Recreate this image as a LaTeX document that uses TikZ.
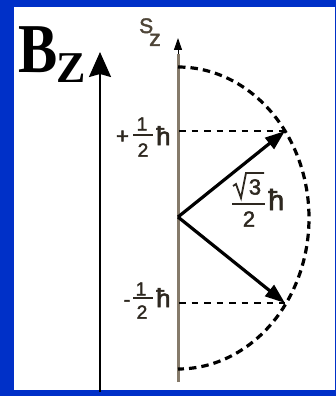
\documentclass[tikz,border=0pt]{standalone}
\usepackage{fontspec}
\setmainfont{Liberation Sans}
\newfontfamily\serifb{Liberation Serif}
\newfontfamily\lblfont[FakeBold=2]{Liberation Sans}
\usetikzlibrary{arrows.meta}
\definecolor{bgblue}{HTML}{0030C8}
\definecolor{axisbrown}{HTML}{857A6A}
\definecolor{ink}{HTML}{2E2820}
\definecolor{labbrown}{HTML}{4E4538}
\begin{document}
\begin{tikzpicture}[x=1pt,y=-1pt,
  digit/.style={inner sep=0pt, text=ink, font=\lblfont\fontsize{19pt}{19pt}\selectfont},
  bigdigit/.style={inner sep=0pt, text=ink, font=\lblfont\fontsize{22pt}{22pt}\selectfont},
  hb/.style={inner sep=0pt, anchor=base west, text=ink, font=\lblfont\fontsize{26pt}{26pt}\selectfont},
  bighb/.style={inner sep=0pt, anchor=base west, text=ink, font=\lblfont\fontsize{29pt}{29pt}\selectfont},
  fracbar/.style={ink, line width=1.8pt},
  vec/.style={line width=3.2pt, -{Triangle[length=20pt,width=14pt]}},
  guide/.style={line width=1.6pt, dash pattern=on 6.5pt off 6pt},
  cone/.style={line width=3.2pt, dash pattern=on 7.5pt off 5pt}]
\useasboundingbox (0,0) rectangle (336,396);
\fill[bgblue] (0,0) rectangle (336,396);
\fill[white] (14,7) rectangle (335,390);

% B_z label and field arrow
\node[anchor=base west, inner sep=0pt] (B) at (18,72)
  {\scalebox{0.84}[1]{\serifb\bfseries\fontsize{70pt}{70pt}\selectfont B}};
\node[anchor=base west, inner sep=0pt] (Z) at (56,82)
  {\serifb\bfseries\fontsize{44pt}{44pt}\selectfont Z};
\coordinate (Bbot) at (100,392);
\coordinate (Btop) at (100,52);
\draw[line width=2.2pt, -{Stealth[length=25pt,width=22pt,inset=3pt]}] (Bbot) -- (Btop);

% S_z axis
\coordinate (Sbot) at (178,382);
\coordinate (Sarr) at (178,54);
\coordinate (Stop) at (178,38);
\draw[axisbrown, line width=3pt] (Sbot) -- (Sarr);
\draw[black, line width=1pt, -{Triangle[length=12pt,width=8pt]}] (Sarr) -- (Stop);
\node[anchor=base west, inner sep=0pt, text=labbrown, font=\lblfont\fontsize{21pt}{21pt}\selectfont] (Sz) at (139,33)
  {S\kern-4pt\raisebox{-13pt}{\fontsize{23pt}{23pt}\selectfont z}};

% dashed half circle
\draw[cone] plot[domain=-90:90, samples=120] ({178+131*cos(\x)},{218+151*sin(\x)});

% vectors
\coordinate (O) at (178,217);
\coordinate (Tup) at (285,131);
\coordinate (Tdn) at (285,303);
\coordinate (Hup) at (179,131);
\coordinate (Hdn) at (179,303);
\draw[guide] (Hup) -- (Tup);
\draw[guide] (Hdn) -- (Tdn);
\draw[vec] (O) -- (Tup);
\draw[vec] (O) -- (Tdn);

% +1/2 hbar
\node[digit, font=\lblfont\fontsize{22pt}{22pt}\selectfont] (plus) at (122.5,137) {+};
\node[digit] (n1) at (142,124) {1};
\coordinate (ubL) at (133,135);
\coordinate (ubR) at (153,135);
\draw[fracbar] (ubL) -- (ubR);
\node[digit] (d1) at (143,150) {2};
\node[hb] (h1) at (156,145) {ħ};

% -1/2 hbar
\node[digit] (minus) at (127,303) {-};
\node[digit] (n2) at (141,289) {1};
\coordinate (lbL) at (133,298);
\coordinate (lbR) at (153,298);
\draw[fracbar] (lbL) -- (lbR);
\node[digit] (d2) at (142,312) {2};
\node[hb] (h2) at (156,307) {ħ};

% sqrt3/2 hbar
\coordinate (r1) at (233,186);
\coordinate (r2) at (236,184);
\coordinate (r3) at (241,198);
\coordinate (r4) at (246,173);
\coordinate (r5) at (264,173);
\draw[ink, line width=1.8pt, line join=miter] (r1) -- (r2) -- (r3) -- (r4) -- (r5);
\node[bigdigit] (n3) at (255,187) {3};
\coordinate (cbL) at (232,204);
\coordinate (cbR) at (265,204);
\draw[fracbar] (cbL) -- (cbR);
\node[bigdigit] (d3) at (249,219) {2};
\node[bighb] (h3) at (268,210) {ħ};
\end{tikzpicture}
\end{document}
